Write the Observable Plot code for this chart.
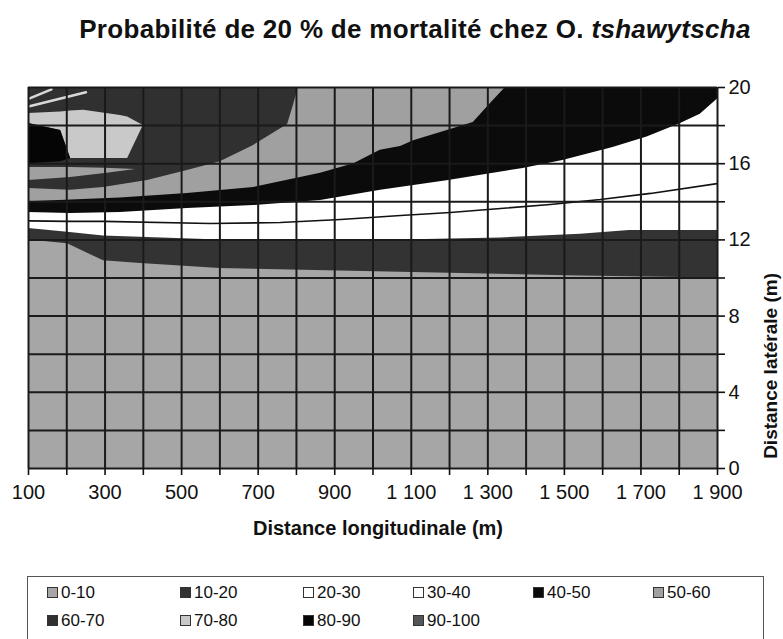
<!DOCTYPE html>
<html><head><meta charset="utf-8">
<script src="https://cdn.jsdelivr.net/npm/d3@7"></script>
<script src="https://cdn.jsdelivr.net/npm/@observablehq/plot@0.6"></script>
<style>
body{margin:0;background:#fff;font-family:"Liberation Sans",Arial,sans-serif;color:#111;}
#wrap{position:relative;width:783px;height:639px;overflow:hidden;background:#fff;}
#title{position:absolute;left:0;top:16px;width:830px;text-align:center;font-size:26px;font-weight:bold;line-height:26px;white-space:nowrap;letter-spacing:0.3px;}
#chart{position:absolute;left:0;top:50px;}
#legend{position:absolute;left:27px;top:576px;width:737px;height:90px;border:1px solid #555;box-sizing:border-box;}
.item{position:absolute;font-size:17px;line-height:20px;white-space:nowrap;}
.sw{display:inline-block;width:9px;height:9px;border:1px solid #333;margin-right:3px;vertical-align:0px;}
</style></head>
<body><div id="wrap">
<div id="title">Probabilité de 20 % de mortalité chez O. <i>tshawytscha</i></div>
<div id="chart"></div>
<div id="legend"></div>
</div>
<script>
// ---- axis ticks / labels ----
const xGridTicks = [100,200,300,400,500,600,700,800,900,1000,1100,1200,1300,1400,1500,1600,1700,1800,1900];
const yGridTicks = [0,2,4,6,8,10,12,14,16,18,20];
const xLabelValues = [100,300,500,700,900,1100,1300,1500,1700,1900];
const xLabelTexts = ["100","300","500","700","900","1 100","1 300","1 500","1 700","1 900"];
const yLabelValues = [0,4,8,12,16,20];

// ---- probability classes (%) ----
const classes = ["0-10","10-20","20-30","30-40","40-50","50-60","60-70","70-80","80-90","90-100"];

// ---- contour boundaries (x: distance longitudinale m, y: distance latérale m) ----
// 0-10 | 10-20
const b10X = [100,202,296,393,601,1072,1542,1900];
const b10Y = [12.0,11.8,10.9,10.76,10.5,10.3,10.1,10.0];
// 10-20 | 20-30
const b20X = [100,202,296,601,1072,1333,1542,1670,1900];
const b20Y = [12.6,12.4,12.2,12.0,12.0,12.1,12.3,12.5,12.5];
// 20-30 | 30-40 (thin line)
const b30X = [100,202,296,575,758,915,1072,1202,1333,1463,1594,1725,1900];
const b30Y = [13.0,12.97,12.97,12.86,12.91,13.07,13.28,13.44,13.65,13.86,14.12,14.44,14.96];
// 30-40 | 40-50
const b40X = [100,210,340,515,688,863,1020,1193,1392,1496,1627,1716,1802,1855,1900];
const b40Y = [13.44,13.39,13.44,13.65,13.8,14.07,14.6,15.1,15.75,16.17,16.85,17.4,18.1,18.6,19.4];
// 40-50 | 50-60
const b50X = [100,340,515,688,863,950,1019,1072,1106,1194,1262,1307,1346,1900];
const b50Y = [14.0,14.2,14.44,14.75,15.5,16.0,16.7,16.9,17.2,17.74,18.16,19.16,20,20];
// 50-60 | 60-70
const b60X = [100,210,296,411,515,601,688,777,792,805];
const b60Y = [14.7,14.6,14.75,15.12,15.64,16.1,16.96,18.06,19.06,20];
// 50-60 wedge inside the 60-70 zone (lower / upper edges)
const wedgeX = [100,210,300,380];
const wedgeLo = [15.12,15.28,15.48,15.7];
const wedgeHi = [15.8,15.8,15.76,15.7];
// 70-80 zone (lower / upper edges)
const z70X = [100,184,210,244,340,359,400];
const z70Lo = [18.11,17.74,16.27,16.27,16.27,16.27,18.0];
const z70Hi = [18.64,18.72,18.76,18.8,18.53,18.45,18.0];
// 80-90 zone
const z80X = [100,184,210];
const z80Lo = [16.0,16.1,16.27];
const z80Hi = [18.11,17.74,16.27];
// thin light streaks at top-left
const streak1X = [100,160];
const streak1Y = [19.4,19.9];
const streak2X = [100,250];
const streak2Y = [19.0,19.75];

// ---- styles ----
const palette = ["#a6a6a6","#333333","#ffffff","#ffffff","#0b0b0b","#a0a0a0","#303030","#c9c9c9","#050505","#555555"];
const gridColor = "#1a1a1a";

const pts = (xs, ys) => xs.map((x, i) => ({x, y: ys[i]}));
const band = (xs, lo, hi, fill) =>
  Plot.areaY(xs.map((x, i) => ({x, lo: lo[i], hi: hi[i]})), {x: "x", y1: "lo", y2: "hi", fill, curve: "linear", clip: true});
const toTop = (xs, ys, fill) =>
  Plot.areaY(pts(xs, ys), {x: "x", y1: "y", y2: () => 20, fill, curve: "linear", clip: true});

const chart = Plot.plot({
  width: 783,
  height: 520,
  marginLeft: 28,
  marginRight: 66,
  marginTop: 37,
  marginBottom: 102,
  style: {fontFamily: "'Liberation Sans', Arial, sans-serif", fontSize: "20px", color: "#111", background: "transparent"},
  x: {domain: [100, 1900]},
  y: {domain: [0, 20]},
  marks: [
    Plot.frame({fill: palette[0], stroke: "none"}),
    toTop(b10X, b10Y, palette[1]),
    toTop(b20X, b20Y, palette[2]),
    toTop(b30X, b30Y, palette[3]),
    toTop(b40X, b40Y, palette[4]),
    toTop(b50X, b50Y, palette[5]),
    toTop(b60X, b60Y, palette[6]),
    band(wedgeX, wedgeLo, wedgeHi, palette[5]),
    band(z70X, z70Lo, z70Hi, palette[7]),
    band(z80X, z80Lo, z80Hi, palette[8]),
    Plot.line(pts(b30X, b30Y), {x: "x", y: "y", stroke: "#111", strokeWidth: 1.6, clip: true}),
    Plot.line(pts(streak1X, streak1Y), {x: "x", y: "y", stroke: "#d8d8d8", strokeWidth: 2.5, clip: true}),
    Plot.line(pts(streak2X, streak2Y), {x: "x", y: "y", stroke: "#d8d8d8", strokeWidth: 2.5, clip: true}),
    Plot.ruleX(xGridTicks, {stroke: gridColor, strokeWidth: 2}),
    Plot.ruleY(yGridTicks, {stroke: gridColor, strokeWidth: 2}),
    Plot.axisX({ticks: xGridTicks, tickSize: 7, tickPadding: 9, fontSize: 20, strokeWidth: 1.6, label: null,
      tickFormat: d => { const i = xLabelValues.indexOf(d); return i < 0 ? "" : xLabelTexts[i]; }}),
    Plot.axisY({anchor: "right", ticks: yGridTicks, tickSize: 7, tickPadding: 4, fontSize: 20, strokeWidth: 1.6, label: null,
      tickFormat: d => yLabelValues.includes(d) ? String(d) : ""}),
    Plot.text(["Distance longitudinale (m)"], {frameAnchor: "bottom", dy: 66, dx: 5, fontWeight: "bold", fontSize: 20, text: d => d}),
    Plot.text(["Distance latérale (m)"], {frameAnchor: "right", dx: 53, dy: -5, rotate: -90, fontWeight: "bold", fontSize: 19, text: d => d})
  ]
});
document.getElementById("chart").appendChild(chart);

// ---- legend ----
const legCols = [46, 179, 302, 412, 532, 652];
const legRows = [582, 610];
const legend = document.getElementById("legend");
classes.forEach((c, i) => {
  const el = document.createElement("div");
  el.className = "item";
  el.style.left = (legCols[i % 6] - 27) + "px";
  el.style.top = (legRows[Math.floor(i / 6)] - 576) + "px";
  const sw = document.createElement("span");
  sw.className = "sw";
  sw.style.background = palette[i];
  el.appendChild(sw);
  el.appendChild(document.createTextNode(c));
  legend.appendChild(el);
});
</script>
</body></html>
